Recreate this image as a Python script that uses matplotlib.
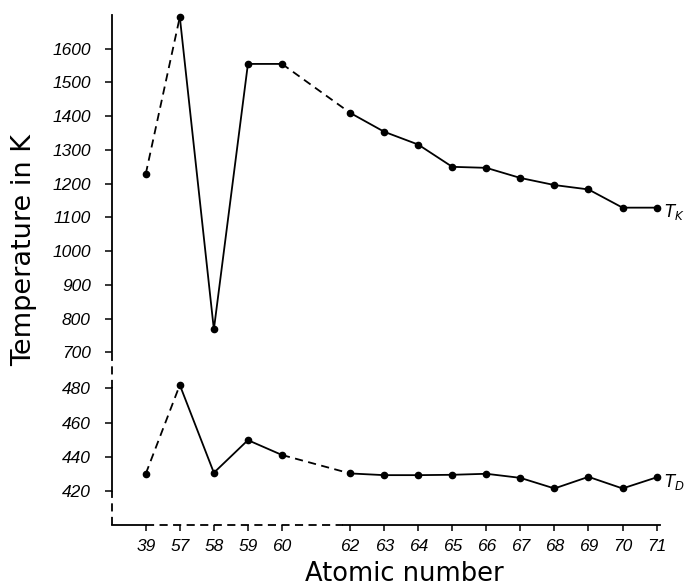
import numpy as np
import matplotlib
matplotlib.use("Agg")
import matplotlib.pyplot as plt

plt.rcParams['font.family'] = ['Liberation Sans', 'DejaVu Sans']

# atomic numbers (61 / Pm missing, leaves a gap)
Z = [39, 57, 58, 59, 60, 62, 63, 64, 65, 66, 67, 68, 69, 70, 71]
T_K = [1229, 1694, 768, 1555, 1555, 1410, 1354, 1316, 1250, 1247, 1217, 1196, 1183, 1129, 1129]
T_D = [430, 482, 430.6, 449.7, 441, 430.2, 429.2, 429.2, 429.4, 430, 427.6, 421.4, 428.2, 421.4, 427.9]

upper_ticks = [700, 800, 900, 1000, 1100, 1200, 1300, 1400, 1500, 1600]
lower_ticks = [420, 440, 460, 480]

pos = np.array([i + (1 if z > 61 else 0) for i, z in enumerate(Z)])

W, H = 685, 588
fig = plt.figure(figsize=(W / 100, H / 100), dpi=100)
ax1 = fig.add_axes([111.7 / W, 1 - 352.4 / H, 548.3 / W, 337.4 / H])
ax2 = fig.add_axes([111.7 / W, 1 - 525 / H, 548.3 / W, 136.6 / H])

lw = 1.3
dash = (0, (4.5, 3))


def draw(ax, y):
    y = np.asarray(y)
    ax.plot(pos[0:2], y[0:2], color='k', lw=lw, linestyle=dash)
    ax.plot(pos[1:5], y[1:5], color='k', lw=lw)
    ax.plot(pos[4:6], y[4:6], color='k', lw=lw, linestyle=dash)
    ax.plot(pos[5:], y[5:], color='k', lw=lw)
    ax.plot(pos, y, 'o', color='k', ms=4.5, clip_on=False)


draw(ax1, T_K)
draw(ax2, T_D)

for ax in (ax1, ax2):
    ax.set_xlim(-1, 15.1)
    for s in ('top', 'right'):
        ax.spines[s].set_visible(False)
    ax.spines['left'].set_linewidth(lw)
    ax.tick_params(axis='y', direction='out', length=5, width=1.1, pad=10, labelsize=12.5)

ax1.set_ylim(700, 1700)
ax1.set_yticks(upper_ticks)
ax1.set_yticklabels([str(t) for t in upper_ticks], style='italic')
ax1.spines['bottom'].set_visible(False)
ax1.set_xticks([])

ax2.set_ylim(400, 480)
ax2.set_yticks(lower_ticks)
ax2.set_yticklabels([str(t) for t in lower_ticks], style='italic')
ax2.spines['left'].set_bounds(420, 480)
ax2.spines['bottom'].set_bounds(5.78, 15.1)
ax2.spines['bottom'].set_linewidth(lw)
ax2.set_xticks(pos)
ax2.set_xticklabels([str(z) for z in Z], style='italic')
ax2.tick_params(axis='x', direction='out', length=4, width=1.1, pad=6, labelsize=12.5)

# dashed pieces of the broken axes
yt = ax2.get_yaxis_transform()
ax2.plot([0, 0], [400, 420], transform=yt, color='k', lw=lw, linestyle=dash, clip_on=False)
ax2.plot([0, 0], [480, 480 + 35.9 / 1.707], transform=yt, color='k', lw=lw, linestyle=dash, clip_on=False)
xt = ax2.get_xaxis_transform()
ax2.plot([-1, 0], [0, 0], transform=xt, color='k', lw=lw, clip_on=False)
ax2.plot([0, 5.78], [0, 0], transform=xt, color='k', lw=lw, linestyle=dash, clip_on=False)

ax1.annotate(r'$T_K$', xy=(pos[-1], T_K[-1]), xytext=(5, -3), textcoords='offset points',
             ha='left', va='center', fontsize=12, annotation_clip=False)
ax2.annotate(r'$T_D$', xy=(pos[-1], T_D[-1]), xytext=(5, -3), textcoords='offset points',
             ha='left', va='center', fontsize=12, annotation_clip=False)

fig.text(24 / W, 1 - 250 / H, 'Temperature in K', rotation=90, ha='center', va='center',
         fontsize=19.5, family='DejaVu Sans')
fig.text(404 / W, 1 - 581 / H, 'Atomic number', ha='center', va='baseline',
         fontsize=18.5, family='DejaVu Sans')

fig.savefig('out.png', dpi=100)
